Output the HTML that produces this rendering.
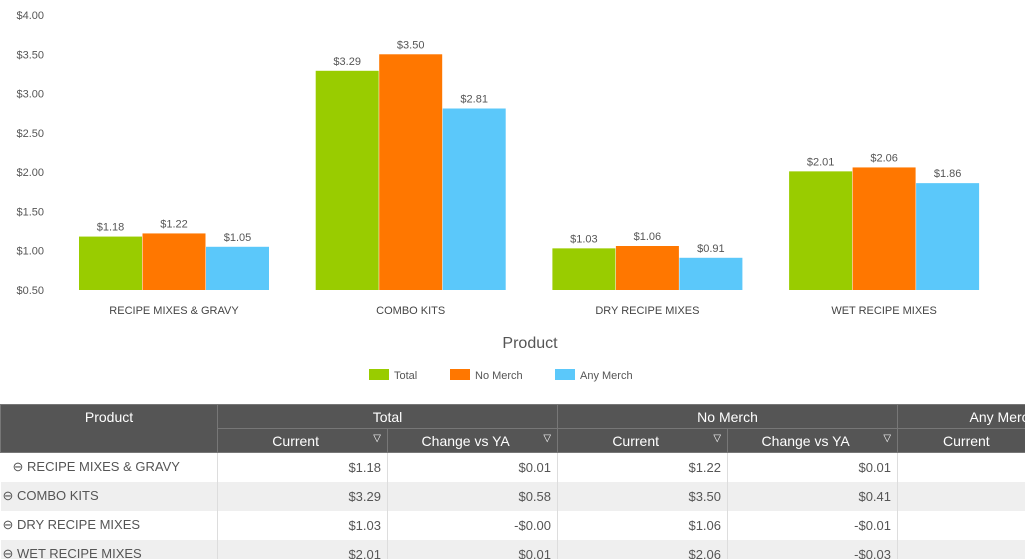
<!DOCTYPE html>
<html><head><meta charset="utf-8">
<style>
body{margin:0;width:1025px;height:559px;overflow:hidden;background:#fff;font-family:"Liberation Sans",sans-serif;position:relative}
svg{position:absolute;left:0;top:0}
#tw{position:absolute;left:0;top:404px;width:1025px;height:155px;overflow:hidden}
table{border-collapse:collapse;table-layout:fixed;width:1108px;font-size:13px;color:#555}
th{background:#555;color:#fff;font-weight:normal;font-size:14px;border:1px solid #777;height:23px;padding:0}
td{height:29px;border-right:1px solid #ddd;padding:0 6px;text-align:right;white-space:nowrap;box-sizing:border-box}
td.p{text-align:left;padding-left:2px}
tr.alt td{background:#efefef}
.f{float:right;font-size:10px;margin-right:6px}
</style></head><body>
<svg width="1025" height="400" id="chart"></svg>
<div id="tw">
<table>
<colgroup><col style="width:217px"><col style="width:170px"><col style="width:170px"><col style="width:170px"><col style="width:170px"><col style="width:211px"></colgroup>
<tr><th rowspan="2" style="vertical-align:top;padding-top:4px">Product</th><th colspan="2">Total</th><th colspan="2">No Merch</th><th>Any Merch</th></tr>
<tr><th>Current<span class="f">▽</span></th><th>Change vs YA<span class="f">▽</span></th><th>Current<span class="f">▽</span></th><th>Change vs YA<span class="f">▽</span></th><th style="text-align:left;padding-left:45px">Current</th></tr>
<tr><td class="p" style="padding-left:12px">⊖ RECIPE MIXES &amp; GRAVY</td><td>$1.18</td><td>$0.01</td><td>$1.22</td><td>$0.01</td><td></td></tr>
<tr class="alt"><td class="p">⊖ COMBO KITS</td><td>$3.29</td><td>$0.58</td><td>$3.50</td><td>$0.41</td><td></td></tr>
<tr><td class="p">⊖ DRY RECIPE MIXES</td><td>$1.03</td><td>-$0.00</td><td>$1.06</td><td>-$0.01</td><td></td></tr>
<tr class="alt"><td class="p">⊖ WET RECIPE MIXES</td><td>$2.01</td><td>$0.01</td><td>$2.06</td><td>-$0.03</td><td></td></tr>
</table>
</div>
<script>
const categories=["RECIPE MIXES & GRAVY","COMBO KITS","DRY RECIPE MIXES","WET RECIPE MIXES"];
const seriesNames=["Total","No Merch","Any Merch"];
const total=[1.18,3.29,1.03,2.01];
const noMerch=[1.22,3.50,1.06,2.06];
const anyMerch=[1.05,2.81,0.91,1.86];
const yTicks=[0.5,1,1.5,2,2.5,3,3.5,4];
const colors=["#99cc00","#ff7700","#5bc8fa"];
const series=[total,noMerch,anyMerch];
const svg=document.getElementById('chart');
const NS="http://www.w3.org/2000/svg";
const y=v=>290-(v-0.5)*78.57;
const x0=i=>79+i*236.7;
function mk(t,a,txt){const e=document.createElementNS(NS,t);for(const k in a)e.setAttribute(k,a[k]);if(txt!=null)e.textContent=txt;svg.appendChild(e);return e;}
yTicks.forEach(v=>{const e=mk('text',{x:44,y:y(v)+4,'text-anchor':'end','font-size':11,fill:'#555'},'$'+v.toFixed(2));

});
categories.forEach((c,i)=>{
 series.forEach((s,j)=>{
  const bx=x0(i)+j*63.5;
  const r=mk('rect',{x:bx,y:y(s[i]),width:63,height:290-y(s[i]),fill:colors[j]});
  
  
  const t=mk('text',{x:bx+31.5,y:y(s[i])-6,'text-anchor':'middle','font-size':11,fill:'#555'},'$'+s[i].toFixed(2));
  
  
 });
 const l=mk('text',{x:x0(i)+95,y:314,'text-anchor':'middle','font-size':11,fill:'#444'},c);
 
 
});
const at=mk('text',{x:530,y:348,'text-anchor':'middle','font-size':16,fill:'#555'},'Product');


const lx=[369,450,555];
seriesNames.forEach((n,j)=>{
 const r=mk('rect',{x:lx[j],y:369,width:20,height:11,fill:colors[j]});
 
 
 const t=mk('text',{x:lx[j]+25,y:379,'font-size':11,fill:'#555'},n);
 
 
});
</script>
</body></html>
